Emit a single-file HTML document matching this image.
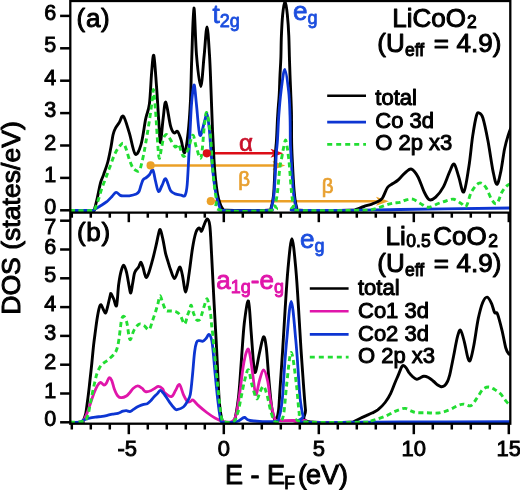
<!DOCTYPE html>
<html><head><meta charset="utf-8"><style>
html,body{margin:0;padding:0;background:#fff;}
svg{display:block;}
</style></head><body>
<svg width="520" height="490" viewBox="0 0 520 490">
<defs><filter id="bl" x="0" y="0" width="1" height="1"><feGaussianBlur stdDeviation="0.45"/></filter></defs>
<rect width="520" height="490" fill="#fff"/>
<g filter="url(#bl)">
<rect width="520" height="490" fill="#fff"/>
<defs><clipPath id="ca"><rect x="70.3" y="0.0" width="440.0" height="213.2"/></clipPath>
<clipPath id="cb"><rect x="70.3" y="212.7" width="440.0" height="211.5"/></clipPath></defs>
<!-- arrows -->
<g stroke-width="2.5">
<line x1="206.8" y1="153.3" x2="276" y2="153.3" stroke="#dc0a14"/>
<line x1="150.6" y1="165.4" x2="278" y2="165.4" stroke="#eba028"/>
<line x1="210.8" y1="201.2" x2="382" y2="201.2" stroke="#eba028"/>
</g>
<path d="M283.3,153.3 L270.5,148.8 L273.5,153.3 L270.5,157.8 Z" fill="#dc0a14"/>
<path d="M285.3,165.4 L272.5,160.9 L275.5,165.4 L272.5,169.9 Z" fill="#eba028"/>
<path d="M388.8,201.2 L376,196.7 L379,201.2 L376,205.7 Z" fill="#eba028"/>

<path d="M70.0,210.5 C73.7,210.5 88.0,210.6 92.0,210.4 C96.0,210.2 93.4,211.7 94.3,209.5 C95.2,207.3 96.4,201.9 97.4,197.5 C98.4,193.1 99.5,186.7 100.5,182.9 C101.5,179.1 102.4,178.1 103.6,174.6 C104.8,171.1 106.6,166.5 107.8,162.0 C109.0,157.5 110.0,152.0 110.9,147.5 C111.8,143.0 112.3,138.1 113.0,135.0 C113.7,131.9 114.0,130.9 115.1,128.8 C116.1,126.7 117.9,124.6 119.3,122.5 C120.7,120.4 121.7,114.6 123.4,116.3 C125.1,118.0 127.3,126.6 129.3,132.9 C131.3,139.2 133.2,152.1 135.2,154.0 C137.1,155.9 139.2,150.5 141.0,144.6 C142.8,138.7 144.3,125.6 145.7,118.8 C147.1,112.0 148.4,111.6 149.4,104.0 C150.4,96.4 150.9,81.1 151.6,73.0 C152.3,64.9 153.0,53.3 153.8,55.5 C154.6,57.7 155.6,74.4 156.5,86.0 C157.4,97.6 158.3,115.6 159.0,125.0 C159.7,134.4 159.8,143.5 160.5,142.3 C161.2,141.1 162.3,124.7 163.2,118.0 C164.1,111.3 164.6,100.9 165.8,102.2 C167.0,103.5 169.1,120.7 170.5,125.8 C171.9,130.9 172.8,132.0 174.0,132.9 C175.2,133.8 176.4,130.3 177.6,131.5 C178.8,132.7 179.9,136.3 181.1,139.9 C182.3,143.5 183.4,154.0 184.6,152.8 C185.8,151.6 187.1,141.7 188.1,132.9 C189.1,124.1 189.9,112.2 190.5,100.0 C191.1,87.8 191.1,75.3 191.7,60.0 C192.3,44.7 193.1,8.8 193.9,8.0 C194.7,7.2 195.4,41.9 196.5,55.0 C197.6,68.1 199.4,86.5 200.7,86.5 C202.0,86.5 203.1,64.9 204.2,55.0 C205.2,45.1 206.1,27.0 207.0,27.0 C207.9,27.0 208.8,44.5 209.5,55.0 C210.2,65.5 210.5,77.5 211.0,90.0 C211.5,102.5 212.0,118.3 212.5,130.0 C213.0,141.7 213.5,151.7 214.0,160.0 C214.5,168.3 215.0,174.3 215.6,180.0 C216.2,185.7 216.8,190.2 217.5,194.0 C218.2,197.8 218.9,200.4 219.8,203.0 C220.7,205.6 221.8,208.1 223.0,209.3 C224.2,210.5 219.6,210.1 227.0,210.3 C234.4,210.5 260.1,210.8 267.5,210.3 C274.9,209.8 270.1,210.4 271.2,207.3 C272.2,204.2 273.1,200.9 273.8,192.0 C274.5,183.1 275.1,162.5 275.5,153.8 C275.9,145.1 276.1,146.4 276.5,140.0 C276.9,133.6 277.2,123.0 277.7,115.5 C278.1,108.0 278.8,101.8 279.2,95.0 C279.6,88.2 279.7,81.3 280.0,75.0 C280.3,68.7 280.7,63.5 280.9,57.0 C281.1,50.5 281.1,42.8 281.4,35.7 C281.7,28.6 282.1,20.1 282.7,14.3 C283.3,8.5 284.2,1.0 285.0,1.0 C285.8,1.0 286.7,8.5 287.3,14.3 C287.9,20.1 288.5,28.6 288.8,35.7 C289.1,42.8 289.2,50.6 289.4,57.1 C289.6,63.6 289.8,68.7 290.0,75.0 C290.2,81.3 290.6,88.2 290.8,95.0 C291.1,101.8 291.4,108.0 291.5,115.5 C291.6,123.0 291.5,133.6 291.6,140.0 C291.7,146.4 291.6,145.1 292.0,153.8 C292.4,162.5 293.4,183.1 294.2,192.0 C295.0,200.9 295.6,204.2 296.6,207.3 C297.6,210.4 291.1,209.8 300.0,210.3 C308.9,210.8 340.7,210.5 350.0,210.3 C359.3,210.1 353.7,209.9 356.0,209.3 C358.3,208.7 361.2,207.4 364.0,206.5 C366.8,205.6 370.2,204.6 372.5,203.8 C374.8,203.0 376.3,202.5 378.0,201.5 C379.7,200.5 380.9,200.3 382.5,198.0 C384.1,195.7 385.8,189.9 387.5,187.5 C389.2,185.1 390.8,185.0 392.5,183.8 C394.2,182.6 395.9,181.8 397.5,180.5 C399.1,179.2 400.6,177.4 402.0,176.0 C403.4,174.6 404.4,173.2 406.0,172.0 C407.6,170.8 409.5,168.3 411.5,169.1 C413.5,169.9 415.8,172.9 417.9,176.7 C420.0,180.5 422.3,188.2 424.2,192.0 C426.1,195.8 427.4,198.8 429.3,199.7 C431.2,200.5 433.4,199.2 435.7,197.1 C438.0,195.0 441.1,191.2 443.4,186.9 C445.7,182.7 447.9,175.4 449.7,171.6 C451.5,167.8 452.6,163.2 454.1,164.0 C455.6,164.8 457.1,172.0 458.7,176.7 C460.3,181.4 462.1,193.7 463.8,192.0 C465.5,190.3 467.4,175.8 468.9,166.5 C470.4,157.2 471.4,144.4 472.7,135.9 C474.0,127.4 475.4,119.3 476.5,115.5 C477.6,111.7 478.0,112.6 479.1,113.0 C480.2,113.4 481.4,113.3 482.9,118.0 C484.4,122.7 486.3,132.1 488.0,141.0 C489.7,149.9 491.6,164.4 493.1,171.6 C494.6,178.8 495.6,184.4 496.9,184.4 C498.2,184.4 499.5,177.6 500.8,171.6 C502.1,165.6 503.3,154.9 504.6,148.7 C505.9,142.5 507.2,138.5 508.4,134.6 C509.6,130.7 511.4,126.6 512.0,125.0" fill="none" stroke="#000" stroke-width="2.90" stroke-linejoin="round" clip-path="url(#ca)"/>
<path d="M70.0,210.5 C73.7,210.5 88.0,210.6 92.0,210.4 C96.0,210.2 92.9,210.4 94.3,209.6 C95.7,208.8 98.4,207.1 100.5,205.8 C102.6,204.5 104.9,203.2 106.8,201.7 C108.7,200.1 110.5,198.1 112.0,196.5 C113.5,194.9 114.7,192.5 116.1,192.3 C117.5,192.1 118.9,194.8 120.3,195.4 C121.7,196.0 123.0,195.7 124.5,195.8 C126.0,195.9 127.3,196.1 129.3,195.8 C131.3,195.5 134.7,194.7 136.3,194.0 C137.9,193.3 138.2,193.0 139.0,191.5 C139.8,190.0 140.4,187.0 141.1,185.0 C141.8,183.0 142.3,180.8 143.2,179.6 C144.1,178.3 145.3,178.3 146.4,177.5 C147.5,176.7 148.5,175.8 149.6,174.5 C150.7,173.2 151.8,168.9 152.8,170.0 C153.8,171.1 154.6,177.4 155.5,181.0 C156.4,184.6 157.4,190.8 158.5,191.5 C159.6,192.2 160.8,187.6 162.0,185.5 C163.2,183.4 164.3,178.0 165.7,178.8 C167.1,179.6 168.9,187.9 170.5,190.4 C172.1,192.9 173.4,193.1 175.2,193.9 C177.0,194.7 179.5,194.8 181.1,195.1 C182.7,195.4 184.0,197.3 185.0,195.5 C186.0,193.7 186.5,192.6 187.2,184.5 C187.9,176.4 188.6,159.9 189.3,147.0 C190.0,134.1 190.7,116.2 191.3,107.0 C191.9,97.8 192.2,95.6 192.7,92.0 C193.2,88.4 193.8,83.2 194.4,85.4 C195.0,87.6 195.6,96.7 196.5,105.0 C197.4,113.3 198.6,132.5 199.9,135.2 C201.2,137.9 203.4,124.6 204.6,121.1 C205.8,117.6 206.1,112.9 206.9,114.1 C207.7,115.3 208.4,120.8 209.2,128.2 C210.0,135.6 210.6,148.5 211.6,158.7 C212.6,168.9 213.7,181.1 215.1,189.2 C216.5,197.3 218.4,204.0 219.8,207.5 C221.2,211.0 215.5,209.8 223.5,210.3 C231.5,210.8 260.0,210.8 268.0,210.3 C276.0,209.8 270.6,210.4 271.6,207.3 C272.6,204.2 273.4,200.9 274.2,192.0 C275.0,183.1 275.8,162.5 276.3,153.8 C276.9,145.1 277.1,146.4 277.5,140.0 C277.9,133.6 278.2,123.6 278.8,115.5 C279.4,107.4 280.0,99.3 281.0,91.6 C282.0,83.9 283.5,69.5 284.8,69.5 C286.1,69.5 287.8,83.9 288.7,91.6 C289.6,99.3 289.7,107.4 290.0,115.5 C290.3,123.6 290.2,133.6 290.3,140.0 C290.4,146.4 290.4,145.1 290.9,153.8 C291.4,162.5 292.5,183.1 293.4,192.0 C294.3,200.9 295.1,204.2 296.1,207.3 C297.1,210.4 282.2,209.9 299.5,210.3 C316.8,210.7 364.6,209.9 400.0,209.5 C435.4,209.1 493.3,208.2 512.0,208.0" fill="none" stroke="#0b35d2" stroke-width="2.80" stroke-linejoin="round" clip-path="url(#ca)"/>
<path d="M70.0,210.5 C73.8,210.5 88.8,210.8 93.0,210.4 C97.2,210.0 94.4,209.7 95.3,207.9 C96.2,206.1 97.4,202.7 98.4,199.6 C99.4,196.5 100.5,192.3 101.5,189.2 C102.5,186.1 103.7,183.6 104.7,180.8 C105.8,178.0 106.8,175.3 107.8,172.5 C108.8,169.7 109.9,167.0 110.9,164.2 C111.9,161.4 113.0,158.2 114.0,155.8 C115.0,153.4 116.2,151.3 117.2,149.6 C118.2,147.9 119.3,146.4 120.3,145.4 C121.3,144.4 122.4,142.5 123.4,143.3 C124.4,144.1 125.5,147.1 126.5,150.0 C127.5,152.9 128.6,157.6 129.7,160.6 C130.8,163.6 131.8,166.3 133.0,168.0 C134.2,169.7 135.9,170.6 137.0,171.0 C138.1,171.4 138.8,171.7 139.5,170.5 C140.2,169.3 140.7,167.4 141.5,164.0 C142.3,160.6 143.2,157.3 144.5,150.0 C145.8,142.7 148.2,128.7 149.5,120.0 C150.8,111.3 151.8,103.0 152.5,98.0 C153.2,93.0 153.1,88.0 153.6,90.0 C154.1,92.0 154.6,99.0 155.5,110.0 C156.4,121.0 157.8,149.9 158.8,156.3 C159.8,162.7 160.6,151.7 161.4,148.6 C162.2,145.5 162.7,140.2 163.6,137.9 C164.5,135.6 165.7,134.4 166.8,134.6 C167.9,134.8 168.6,136.8 170.0,138.9 C171.4,141.0 173.8,146.1 175.2,147.0 C176.6,147.9 177.3,143.0 178.7,144.6 C180.1,146.2 181.8,155.5 183.4,156.3 C185.0,157.1 186.5,152.8 188.1,149.3 C189.7,145.8 191.4,135.6 192.8,135.2 C194.2,134.8 194.9,143.3 196.3,147.0 C197.7,150.7 199.6,161.4 201.0,157.5 C202.4,153.6 203.6,130.9 204.6,123.5 C205.6,116.1 205.9,111.0 206.9,112.9 C207.9,114.9 209.4,125.6 210.4,135.2 C211.4,144.8 211.8,159.8 212.8,170.4 C213.8,181.0 214.9,191.9 216.3,198.6 C217.7,205.2 211.7,208.4 221.0,210.3 C230.3,212.2 263.0,211.2 272.0,210.3 C281.0,209.4 274.1,208.1 275.0,205.0 C275.9,201.9 276.7,198.4 277.5,192.0 C278.3,185.6 279.2,172.4 280.0,166.5 C280.8,160.6 281.4,159.4 282.0,156.4 C282.6,153.4 282.8,151.3 283.4,148.6 C284.0,145.9 284.9,140.0 285.6,140.0 C286.3,140.0 286.9,145.9 287.4,148.6 C287.9,151.3 288.0,153.4 288.4,156.4 C288.8,159.4 289.0,160.6 289.5,166.5 C290.0,172.4 290.8,185.6 291.5,192.0 C292.2,198.4 292.6,201.9 293.5,205.0 C294.4,208.1 285.9,209.4 297.0,210.3 C308.1,211.2 347.0,210.6 360.0,210.3 C373.0,210.1 370.0,209.9 375.0,208.8 C380.0,207.7 385.8,204.9 390.0,203.8 C394.2,202.7 397.3,202.9 400.0,202.3 C402.7,201.7 403.9,200.5 406.0,200.0 C408.1,199.5 410.4,198.6 412.8,199.2 C415.2,199.8 417.8,202.2 420.4,203.5 C422.9,204.8 425.1,207.3 428.1,207.3 C431.1,207.3 435.3,204.6 438.3,203.5 C441.3,202.4 443.4,201.7 446.0,201.0 C448.6,200.3 451.1,198.8 453.6,199.2 C456.1,199.6 459.1,202.3 461.2,203.5 C463.3,204.7 464.6,208.0 466.3,206.1 C468.0,204.2 469.3,195.8 471.4,192.0 C473.5,188.2 476.8,183.9 479.1,183.1 C481.5,182.2 483.4,184.1 485.5,186.9 C487.6,189.7 489.9,196.9 491.8,199.7 C493.7,202.5 495.2,204.8 496.9,203.5 C498.6,202.2 500.3,195.0 502.0,192.0 C503.7,189.0 505.4,187.2 507.1,185.7 C508.8,184.2 511.2,183.4 512.0,183.0" fill="none" stroke="#22dd33" stroke-width="2.90" stroke-linejoin="round" stroke-dasharray="5,3.5" clip-path="url(#ca)"/>
<path d="M70.0,422.3 C72.0,422.3 79.8,422.5 82.0,422.3 C84.2,422.1 82.6,422.5 83.2,421.0 C83.8,419.5 85.1,416.6 85.8,413.3 C86.5,410.0 86.9,405.4 87.5,401.1 C88.1,396.8 88.8,390.8 89.2,387.3 C89.6,383.8 89.6,384.0 90.0,380.0 C90.4,376.0 91.2,369.3 91.8,363.5 C92.4,357.7 93.0,350.6 93.6,345.1 C94.2,339.6 94.9,335.0 95.5,330.4 C96.1,325.8 96.7,321.3 97.3,317.6 C97.9,313.9 98.5,310.5 99.1,308.4 C99.7,306.2 100.2,304.4 101.0,304.7 C101.8,305.0 102.9,308.8 103.7,310.2 C104.5,311.6 105.0,313.4 105.6,313.0 C106.2,312.6 106.6,310.4 107.4,307.5 C108.2,304.6 109.6,297.8 110.2,295.5 C110.8,293.2 110.5,293.1 111.1,293.7 C111.7,294.3 112.9,297.2 113.8,299.2 C114.7,301.2 115.8,308.1 116.6,305.6 C117.4,303.1 117.9,290.2 118.7,284.3 C119.5,278.4 120.4,273.7 121.3,270.5 C122.2,267.3 123.0,265.0 123.9,265.3 C124.8,265.6 125.6,268.7 126.5,272.2 C127.4,275.7 128.4,282.6 129.1,286.1 C129.8,289.6 130.2,293.3 130.8,293.0 C131.4,292.7 131.9,287.5 132.5,284.3 C133.1,281.1 133.7,276.3 134.3,273.9 C134.9,271.5 135.3,271.2 136.0,270.1 C136.7,269.0 137.8,268.3 138.6,267.0 C139.4,265.7 140.1,262.1 140.8,262.1 C141.5,262.1 142.2,265.0 142.9,267.0 C143.6,269.0 144.1,272.2 144.7,273.9 C145.3,275.6 145.7,277.7 146.4,277.4 C147.1,277.1 148.0,275.1 149.0,272.2 C150.0,269.3 151.3,264.4 152.5,260.1 C153.7,255.8 154.9,250.5 155.9,246.2 C156.9,241.9 157.8,236.8 158.5,234.1 C159.2,231.3 159.6,228.8 160.3,229.7 C161.0,230.6 162.0,235.4 162.9,239.3 C163.8,243.2 164.6,249.3 165.5,253.1 C166.4,256.9 167.3,259.1 168.1,261.8 C168.9,264.5 169.4,266.7 170.5,269.5 C171.6,272.3 173.2,278.3 174.5,278.5 C175.8,278.7 177.1,272.5 178.0,270.6 C178.9,268.7 179.5,266.4 180.2,267.2 C180.9,267.9 181.5,271.0 182.4,275.1 C183.3,279.2 184.7,292.3 185.8,291.9 C186.9,291.5 188.1,280.1 189.2,272.8 C190.3,265.5 191.4,254.9 192.5,248.2 C193.6,241.5 194.8,235.8 195.9,232.4 C197.0,229.0 198.4,228.2 199.3,228.0 C200.2,227.8 200.8,231.7 201.5,231.3 C202.2,230.9 202.9,227.8 203.8,225.7 C204.7,223.6 206.1,219.0 207.1,219.0 C208.1,219.0 209.1,219.7 209.8,225.7 C210.6,231.7 210.9,242.6 211.6,254.9 C212.3,267.2 213.1,284.8 213.9,299.8 C214.7,314.8 215.5,328.3 216.4,345.0 C217.3,361.7 218.3,387.7 219.2,400.1 C220.1,412.5 220.9,415.7 221.9,419.4 C222.9,423.1 223.2,421.8 225.0,422.3 C226.8,422.8 231.2,423.3 233.0,422.3 C234.8,421.3 234.5,421.1 235.5,416.5 C236.5,411.9 237.8,404.1 238.8,394.5 C239.8,384.9 240.6,370.7 241.5,358.8 C242.4,346.9 243.2,332.6 244.3,323.0 C245.5,313.4 247.3,299.6 248.4,301.0 C249.5,302.4 250.2,320.3 251.1,331.3 C252.0,342.3 253.1,360.4 253.9,367.0 C254.7,373.6 254.9,373.5 255.8,371.2 C256.7,368.9 258.1,359.0 259.4,353.3 C260.7,347.6 262.4,337.7 263.5,336.8 C264.6,335.9 265.4,340.5 266.3,347.8 C267.2,355.1 268.1,370.7 269.0,380.8 C269.9,390.9 270.9,401.9 271.8,408.3 C272.7,414.7 273.7,417.4 274.5,419.3 C275.3,421.2 275.8,421.1 276.5,419.5 C277.2,417.9 278.0,415.1 278.6,410.0 C279.2,404.9 279.3,399.3 280.0,389.2 C280.7,379.1 281.8,362.7 282.7,349.4 C283.6,336.1 284.2,322.9 285.1,309.6 C286.0,296.3 286.8,281.6 287.9,269.8 C289.0,258.0 290.6,238.8 291.9,238.8 C293.2,238.8 294.8,258.0 295.9,269.8 C297.0,281.6 297.8,296.3 298.6,309.6 C299.5,322.9 300.1,336.1 301.0,349.4 C301.9,362.7 303.1,379.1 303.8,389.2 C304.6,399.3 304.9,404.6 305.5,410.0 C306.1,415.4 300.1,419.4 307.5,421.5 C314.9,423.6 342.3,422.3 350.0,422.3 C357.7,422.3 352.2,422.1 353.9,421.5 C355.6,420.9 357.9,419.5 360.0,418.5 C362.1,417.5 364.8,416.3 366.8,415.4 C368.8,414.5 370.2,413.9 372.0,413.0 C373.8,412.1 375.6,411.6 377.8,409.9 C380.0,408.1 383.0,405.3 385.1,402.5 C387.2,399.7 389.1,396.6 390.7,393.3 C392.3,390.0 393.7,385.8 395.0,382.7 C396.3,379.6 397.4,377.3 398.5,374.6 C399.6,371.9 401.0,368.0 401.9,366.5 C402.8,365.0 403.0,365.4 403.7,365.6 C404.4,365.8 405.1,366.6 406.0,367.7 C406.9,368.8 407.8,370.9 408.8,372.3 C409.9,373.7 411.1,375.2 412.3,376.3 C413.6,377.4 415.1,378.9 416.3,379.2 C417.6,379.5 418.6,378.6 419.8,378.1 C421.1,377.6 422.4,376.4 423.8,376.3 C425.2,376.2 426.8,376.7 428.4,377.5 C429.9,378.3 431.6,379.8 433.1,381.0 C434.7,382.2 436.4,384.1 437.7,385.0 C439.0,385.9 440.0,386.6 441.1,386.7 C442.2,386.8 443.5,386.5 444.6,385.6 C445.7,384.7 446.6,383.3 447.5,381.5 C448.4,379.7 449.1,377.1 449.8,374.6 C450.5,372.1 450.8,369.8 451.5,366.5 C452.2,363.2 452.8,360.1 453.8,355.0 C454.8,349.9 456.5,340.3 457.6,336.2 C458.7,332.1 459.5,329.3 460.6,330.3 C461.7,331.3 463.2,337.4 464.4,342.1 C465.6,346.8 467.0,355.4 468.0,358.3 C469.0,361.2 469.4,362.0 470.4,359.8 C471.4,357.6 472.6,351.9 473.9,345.0 C475.2,338.1 476.8,325.5 478.3,318.4 C479.8,311.3 481.3,305.8 482.8,302.2 C484.3,298.6 485.7,296.9 487.2,297.1 C488.7,297.3 490.4,301.0 491.6,303.6 C492.8,306.2 493.6,310.8 494.6,312.5 C495.6,314.2 496.3,311.0 497.5,314.0 C498.7,317.0 500.6,324.6 502.0,330.3 C503.4,336.0 504.7,344.1 505.8,348.0 C506.9,351.9 507.8,352.9 508.8,353.9 C509.8,354.9 511.5,354.0 512.0,354.0" fill="none" stroke="#000" stroke-width="2.90" stroke-linejoin="round" clip-path="url(#cb)"/>
<path d="M70.0,422.3 C71.7,422.3 77.8,422.4 80.0,422.2 C82.2,422.0 82.1,422.4 83.2,421.0 C84.3,419.6 85.6,416.8 86.7,414.1 C87.8,411.4 88.9,407.9 90.1,404.6 C91.2,401.3 92.4,397.2 93.6,394.2 C94.8,391.2 95.8,388.3 97.0,386.4 C98.2,384.4 99.3,382.7 100.5,382.5 C101.7,382.3 103.0,385.1 104.0,385.2 C105.0,385.3 105.7,384.2 106.5,383.0 C107.3,381.8 108.2,378.2 109.1,377.8 C110.0,377.4 110.8,378.5 111.7,380.4 C112.6,382.3 113.3,386.4 114.3,389.0 C115.3,391.6 116.6,394.6 117.8,396.0 C119.0,397.4 119.9,397.7 121.3,397.7 C122.7,397.7 125.0,396.9 126.4,396.0 C127.8,395.1 128.7,393.8 129.9,392.5 C131.1,391.2 132.1,389.3 133.4,388.2 C134.7,387.1 136.3,385.9 137.7,385.9 C139.1,385.9 140.7,387.2 142.0,388.2 C143.3,389.1 144.1,391.2 145.5,391.6 C146.9,392.0 149.1,391.4 150.7,390.8 C152.3,390.2 153.7,388.9 155.0,388.2 C156.3,387.5 157.1,386.3 158.4,386.4 C159.7,386.5 161.8,388.0 162.8,389.0 C163.8,390.0 163.1,391.2 164.5,392.5 C165.9,393.8 169.7,396.8 171.5,396.5 C173.3,396.2 174.2,392.5 175.5,390.5 C176.8,388.5 178.2,383.8 179.5,384.5 C180.8,385.2 182.1,391.8 183.4,394.6 C184.7,397.4 186.3,400.4 187.5,401.5 C188.7,402.6 189.6,401.7 190.5,401.5 C191.4,401.3 191.7,399.4 193.0,400.1 C194.3,400.8 196.2,403.5 198.5,405.6 C200.8,407.7 204.1,410.4 206.8,412.5 C209.6,414.6 212.2,416.5 215.0,418.0 C217.8,419.5 220.5,421.0 223.3,421.6 C226.1,422.2 229.9,422.6 232.0,421.5 C234.1,420.4 234.8,419.4 236.0,415.0 C237.2,410.6 238.4,402.5 239.5,395.0 C240.6,387.5 241.7,376.7 242.7,370.0 C243.7,363.3 244.6,358.5 245.5,355.0 C246.4,351.5 247.6,348.6 248.4,349.1 C249.2,349.6 249.8,354.1 250.5,358.0 C251.2,361.9 251.6,366.4 252.5,372.5 C253.4,378.6 254.7,393.1 255.8,394.5 C256.9,395.9 258.1,384.9 259.4,380.8 C260.7,376.7 262.1,369.8 263.5,369.8 C264.9,369.8 266.5,375.8 267.6,380.8 C268.8,385.8 269.2,393.8 270.4,400.0 C271.5,406.2 273.2,414.5 274.5,417.9 C275.8,421.3 272.9,420.1 278.0,420.5 C283.1,420.9 299.7,420.2 305.0,420.5 C310.3,420.8 275.5,422.0 310.0,422.3 C344.5,422.6 478.3,422.3 512.0,422.3" fill="none" stroke="#e014aa" stroke-width="2.80" stroke-linejoin="round" clip-path="url(#cb)"/>
<path d="M70.0,422.3 C71.7,422.3 77.8,422.5 80.0,422.1 C82.2,421.8 81.8,420.8 83.2,420.2 C84.6,419.6 86.4,418.9 88.4,418.4 C90.4,417.9 93.0,417.4 95.3,417.1 C97.6,416.8 100.2,416.7 102.2,416.4 C104.2,416.1 105.7,415.7 107.4,415.3 C109.1,414.9 110.9,414.4 112.6,414.1 C114.3,413.8 116.1,413.8 117.8,413.3 C119.5,412.8 121.6,411.6 123.0,411.2 C124.4,410.8 125.2,410.6 126.4,410.7 C127.6,410.8 128.7,411.7 129.9,411.5 C131.1,411.3 132.0,410.3 133.4,409.4 C134.8,408.5 136.9,407.1 138.6,406.3 C140.3,405.5 142.3,404.7 143.7,404.3 C145.1,403.9 146.0,404.3 147.2,403.7 C148.4,403.1 149.5,401.9 150.7,400.8 C151.8,399.7 152.9,398.0 154.1,396.8 C155.2,395.6 156.6,394.5 157.6,393.4 C158.6,392.3 159.3,390.5 160.2,390.4 C161.1,390.2 162.1,391.8 162.8,392.5 C163.5,393.2 163.3,392.8 164.4,394.4 C165.5,396.0 167.8,399.8 169.5,402.1 C171.2,404.5 173.3,407.2 174.6,408.5 C175.8,409.8 175.5,409.9 177.0,409.7 C178.5,409.4 181.7,408.3 183.4,407.0 C185.1,405.7 185.8,404.1 187.0,402.0 C188.2,399.9 189.4,399.3 190.3,394.6 C191.2,389.9 191.9,381.1 192.6,374.0 C193.3,366.9 193.9,357.2 194.6,352.0 C195.2,346.8 195.8,344.4 196.5,342.5 C197.2,340.6 197.9,340.8 199.0,340.6 C200.1,340.4 201.7,341.6 202.9,341.2 C204.1,340.8 204.9,339.6 206.0,338.5 C207.1,337.4 208.2,333.6 209.3,334.5 C210.4,335.4 211.4,337.3 212.3,343.7 C213.2,350.1 214.1,363.2 215.0,372.6 C215.9,382.0 216.9,392.3 217.8,400.1 C218.7,407.9 219.6,415.7 220.6,419.4 C221.6,423.1 221.3,421.9 224.0,422.3 C226.7,422.7 233.6,422.3 237.0,421.5 C240.4,420.7 242.1,417.7 244.3,417.5 C246.5,417.3 244.9,419.8 250.0,420.5 C255.1,421.2 270.1,422.2 275.0,421.5 C279.9,420.8 278.2,420.0 279.4,416.1 C280.6,412.2 281.6,406.2 282.4,398.3 C283.2,390.4 283.7,378.7 284.4,368.8 C285.1,358.9 285.7,350.4 286.8,339.2 C287.9,327.9 289.7,301.3 291.2,301.3 C292.7,301.3 294.6,327.9 295.7,339.2 C296.8,350.4 297.3,358.9 298.0,368.8 C298.7,378.7 299.2,390.4 300.1,398.3 C301.0,406.2 302.1,412.1 303.1,416.1 C304.1,420.1 289.9,421.2 306.0,422.2 C322.1,423.2 365.7,422.0 400.0,421.9 C434.3,421.8 493.3,421.7 512.0,421.6" fill="none" stroke="#0b35d2" stroke-width="2.80" stroke-linejoin="round" clip-path="url(#cb)"/>
<path d="M70.0,422.3 C72.2,422.2 80.4,421.9 83.0,421.5 C85.6,421.1 84.9,421.6 85.8,420.2 C86.7,418.8 87.7,415.9 88.4,413.3 C89.1,410.7 89.5,407.5 90.1,404.6 C90.7,401.7 91.1,399.5 91.8,396.0 C92.5,392.5 93.5,387.6 94.4,383.8 C95.3,380.1 95.9,376.6 97.0,373.5 C98.1,370.4 99.6,367.4 101.0,365.4 C102.4,363.4 104.1,362.9 105.6,361.7 C107.1,360.5 108.7,359.4 110.2,358.0 C111.7,356.6 113.6,355.2 114.8,353.4 C116.0,351.6 116.7,349.9 117.5,347.0 C118.3,344.1 118.9,339.5 119.4,336.0 C119.9,332.5 120.1,329.0 120.6,326.0 C121.0,323.0 121.5,319.6 122.1,318.0 C122.7,316.4 123.4,316.1 124.1,316.5 C124.8,316.9 125.7,319.0 126.2,320.5 C126.8,322.0 126.8,322.3 127.4,325.5 C128.0,328.7 128.9,338.8 130.0,339.6 C131.1,340.5 132.3,333.2 133.8,330.6 C135.3,328.0 137.2,325.1 138.9,324.2 C140.6,323.3 142.5,324.6 144.0,325.5 C145.5,326.4 146.8,328.9 147.8,329.4 C148.8,329.9 149.2,329.9 150.0,328.3 C150.8,326.7 151.9,322.5 152.9,319.6 C153.9,316.7 155.0,313.6 155.8,311.0 C156.6,308.4 157.2,306.3 157.9,303.8 C158.6,301.3 159.2,295.8 160.1,295.8 C160.9,295.8 162.0,301.4 163.0,303.8 C164.0,306.2 164.9,309.1 165.9,310.3 C166.9,311.5 167.9,310.9 168.8,311.0 C169.8,311.1 170.4,310.9 171.6,311.0 C172.8,311.1 174.6,311.0 176.0,311.7 C177.4,312.4 178.9,313.2 180.3,315.3 C181.7,317.4 183.4,324.0 184.6,324.0 C185.8,324.0 186.7,317.7 187.5,315.3 C188.3,312.9 189.1,311.2 189.7,309.5 C190.3,307.8 190.5,304.7 191.1,305.2 C191.7,305.7 192.5,310.0 193.3,312.4 C194.2,314.8 195.1,318.4 196.2,319.6 C197.3,320.8 198.9,320.6 199.8,319.6 C200.8,318.7 201.2,316.1 201.9,313.9 C202.6,311.7 203.2,309.1 204.1,306.6 C204.9,304.1 206.2,298.7 207.0,298.7 C207.8,298.7 208.6,304.1 209.2,306.6 C209.8,309.1 210.2,311.0 210.6,313.9 C211.0,316.8 211.2,320.8 211.5,324.0 C211.8,327.2 212.2,329.5 212.6,333.0 C213.0,336.5 213.1,338.4 213.7,345.0 C214.3,351.6 215.5,363.4 216.4,372.6 C217.3,381.8 218.3,392.3 219.2,400.1 C220.1,407.9 220.8,415.7 221.9,419.4 C223.1,423.1 224.1,421.8 226.1,422.1 C228.1,422.5 232.0,423.2 234.0,421.5 C236.0,419.8 236.8,415.9 238.0,412.0 C239.2,408.1 239.9,403.2 241.0,398.0 C242.1,392.8 243.3,385.7 244.5,381.0 C245.7,376.3 247.2,369.1 248.4,369.8 C249.7,370.5 250.6,380.2 252.0,385.0 C253.4,389.8 255.3,397.5 256.6,398.7 C257.9,399.9 258.9,394.1 260.0,392.0 C261.1,389.9 262.3,385.8 263.5,386.3 C264.7,386.8 265.8,390.7 267.0,395.0 C268.2,399.3 269.7,407.6 271.0,412.0 C272.3,416.4 273.3,420.1 275.0,421.5 C276.7,422.9 279.5,421.9 281.0,420.5 C282.5,419.1 282.8,419.2 283.8,413.1 C284.8,407.0 285.6,393.7 286.8,383.6 C288.0,373.5 289.6,352.5 291.2,352.5 C292.8,352.5 295.0,373.5 296.3,383.6 C297.6,393.7 298.2,406.8 299.2,413.1 C300.1,419.4 291.5,420.0 302.0,421.5 C312.5,423.0 350.8,422.3 362.0,422.3 C373.2,422.3 366.7,422.0 369.0,421.5 C371.3,421.0 373.3,420.4 376.0,419.5 C378.7,418.6 382.1,417.6 385.1,416.3 C388.2,415.0 391.9,412.8 394.3,411.7 C396.8,410.6 398.0,410.1 399.8,409.5 C401.6,408.9 403.5,408.2 405.4,408.4 C407.2,408.6 409.1,410.1 410.9,410.8 C412.7,411.5 413.8,412.3 416.4,412.6 C419.0,412.9 422.9,412.7 426.6,412.8 C430.3,412.9 434.7,413.4 438.4,413.0 C442.1,412.6 445.6,411.3 448.8,410.1 C452.0,408.9 455.1,406.6 457.6,405.6 C460.1,404.6 461.4,404.1 463.6,404.1 C465.8,404.1 468.7,406.6 470.9,405.6 C473.1,404.6 474.9,400.9 476.9,398.2 C478.9,395.5 480.8,391.3 482.8,389.4 C484.8,387.5 486.7,387.0 488.7,387.0 C490.7,387.0 492.6,388.3 494.6,389.4 C496.6,390.5 498.8,392.1 500.5,393.8 C502.2,395.5 503.5,398.0 504.9,399.7 C506.3,401.4 507.6,403.1 508.8,404.1 C510.0,405.2 511.5,405.7 512.0,406.0" fill="none" stroke="#22dd33" stroke-width="2.90" stroke-linejoin="round" stroke-dasharray="5,3.5" clip-path="url(#cb)"/>
<g stroke="#000" stroke-width="2.30" fill="none">
<rect x="70.30" y="1.00" width="440.00" height="422.70"/>
<line x1="70.30" y1="212.70" x2="510.30" y2="212.70"/>
</g>
<g stroke="#000" stroke-width="2.50">
<line x1="71.80" y1="212.70" x2="71.80" y2="217.70"/>
<line x1="71.80" y1="423.70" x2="71.80" y2="429.50"/>
<line x1="90.80" y1="212.70" x2="90.80" y2="217.70"/>
<line x1="90.80" y1="423.70" x2="90.80" y2="429.50"/>
<line x1="109.80" y1="212.70" x2="109.80" y2="217.70"/>
<line x1="109.80" y1="423.70" x2="109.80" y2="429.50"/>
<line x1="128.80" y1="212.70" x2="128.80" y2="222.20"/>
<line x1="128.80" y1="423.70" x2="128.80" y2="434.20"/>
<line x1="147.80" y1="212.70" x2="147.80" y2="217.70"/>
<line x1="147.80" y1="423.70" x2="147.80" y2="429.50"/>
<line x1="166.80" y1="212.70" x2="166.80" y2="217.70"/>
<line x1="166.80" y1="423.70" x2="166.80" y2="429.50"/>
<line x1="185.80" y1="212.70" x2="185.80" y2="217.70"/>
<line x1="185.80" y1="423.70" x2="185.80" y2="429.50"/>
<line x1="204.80" y1="212.70" x2="204.80" y2="217.70"/>
<line x1="204.80" y1="423.70" x2="204.80" y2="429.50"/>
<line x1="223.80" y1="212.70" x2="223.80" y2="222.20"/>
<line x1="223.80" y1="423.70" x2="223.80" y2="434.20"/>
<line x1="242.80" y1="212.70" x2="242.80" y2="217.70"/>
<line x1="242.80" y1="423.70" x2="242.80" y2="429.50"/>
<line x1="261.80" y1="212.70" x2="261.80" y2="217.70"/>
<line x1="261.80" y1="423.70" x2="261.80" y2="429.50"/>
<line x1="280.80" y1="212.70" x2="280.80" y2="217.70"/>
<line x1="280.80" y1="423.70" x2="280.80" y2="429.50"/>
<line x1="299.80" y1="212.70" x2="299.80" y2="217.70"/>
<line x1="299.80" y1="423.70" x2="299.80" y2="429.50"/>
<line x1="318.80" y1="212.70" x2="318.80" y2="222.20"/>
<line x1="318.80" y1="423.70" x2="318.80" y2="434.20"/>
<line x1="337.80" y1="212.70" x2="337.80" y2="217.70"/>
<line x1="337.80" y1="423.70" x2="337.80" y2="429.50"/>
<line x1="356.80" y1="212.70" x2="356.80" y2="217.70"/>
<line x1="356.80" y1="423.70" x2="356.80" y2="429.50"/>
<line x1="375.80" y1="212.70" x2="375.80" y2="217.70"/>
<line x1="375.80" y1="423.70" x2="375.80" y2="429.50"/>
<line x1="394.80" y1="212.70" x2="394.80" y2="217.70"/>
<line x1="394.80" y1="423.70" x2="394.80" y2="429.50"/>
<line x1="413.80" y1="212.70" x2="413.80" y2="222.20"/>
<line x1="413.80" y1="423.70" x2="413.80" y2="434.20"/>
<line x1="432.80" y1="212.70" x2="432.80" y2="217.70"/>
<line x1="432.80" y1="423.70" x2="432.80" y2="429.50"/>
<line x1="451.80" y1="212.70" x2="451.80" y2="217.70"/>
<line x1="451.80" y1="423.70" x2="451.80" y2="429.50"/>
<line x1="470.80" y1="212.70" x2="470.80" y2="217.70"/>
<line x1="470.80" y1="423.70" x2="470.80" y2="429.50"/>
<line x1="489.80" y1="212.70" x2="489.80" y2="217.70"/>
<line x1="489.80" y1="423.70" x2="489.80" y2="429.50"/>
<line x1="508.80" y1="212.70" x2="508.80" y2="222.20"/>
<line x1="508.80" y1="423.70" x2="508.80" y2="434.20"/>
<line x1="60.10" y1="210.30" x2="70.30" y2="210.30"/>
<line x1="60.10" y1="177.90" x2="70.30" y2="177.90"/>
<line x1="60.10" y1="145.50" x2="70.30" y2="145.50"/>
<line x1="60.10" y1="113.10" x2="70.30" y2="113.10"/>
<line x1="60.10" y1="80.70" x2="70.30" y2="80.70"/>
<line x1="60.10" y1="48.30" x2="70.30" y2="48.30"/>
<line x1="60.10" y1="15.90" x2="70.30" y2="15.90"/>
<line x1="60.10" y1="422.30" x2="70.30" y2="422.30"/>
<line x1="60.10" y1="393.50" x2="70.30" y2="393.50"/>
<line x1="60.10" y1="364.70" x2="70.30" y2="364.70"/>
<line x1="60.10" y1="335.90" x2="70.30" y2="335.90"/>
<line x1="60.10" y1="307.10" x2="70.30" y2="307.10"/>
<line x1="60.10" y1="278.30" x2="70.30" y2="278.30"/>
<line x1="60.10" y1="249.50" x2="70.30" y2="249.50"/>
<line x1="60.10" y1="220.70" x2="70.30" y2="220.70"/>
</g>
<g font-family='"Liberation Sans", sans-serif' fill="#000">
<text x="56.3" y="213.9" font-size="21.5" text-anchor="end" stroke="#000" stroke-width="0.9">0</text>
<text x="56.3" y="181.9" font-size="21.5" text-anchor="end" stroke="#000" stroke-width="0.9">1</text>
<text x="56.3" y="149.5" font-size="21.5" text-anchor="end" stroke="#000" stroke-width="0.9">2</text>
<text x="56.3" y="117.1" font-size="21.5" text-anchor="end" stroke="#000" stroke-width="0.9">3</text>
<text x="56.3" y="84.7" font-size="21.5" text-anchor="end" stroke="#000" stroke-width="0.9">4</text>
<text x="56.3" y="52.3" font-size="21.5" text-anchor="end" stroke="#000" stroke-width="0.9">5</text>
<text x="56.3" y="19.9" font-size="21.5" text-anchor="end" stroke="#000" stroke-width="0.9">6</text>
<text x="56.3" y="426.3" font-size="21.5" text-anchor="end" stroke="#000" stroke-width="0.9">0</text>
<text x="56.3" y="397.5" font-size="21.5" text-anchor="end" stroke="#000" stroke-width="0.9">1</text>
<text x="56.3" y="368.7" font-size="21.5" text-anchor="end" stroke="#000" stroke-width="0.9">2</text>
<text x="56.3" y="339.9" font-size="21.5" text-anchor="end" stroke="#000" stroke-width="0.9">3</text>
<text x="56.3" y="311.1" font-size="21.5" text-anchor="end" stroke="#000" stroke-width="0.9">4</text>
<text x="56.3" y="282.3" font-size="21.5" text-anchor="end" stroke="#000" stroke-width="0.9">5</text>
<text x="56.3" y="253.5" font-size="21.5" text-anchor="end" stroke="#000" stroke-width="0.9">6</text>
<text x="56.3" y="233.8" font-size="21.5" text-anchor="end" stroke="#000" stroke-width="0.9">7</text>
<text x="127.3" y="456.2" font-size="22.0" text-anchor="middle" stroke="#000" stroke-width="0.9">-5</text>
<text x="223.8" y="456.2" font-size="22.0" text-anchor="middle" stroke="#000" stroke-width="0.9">0</text>
<text x="318.8" y="456.2" font-size="22.0" text-anchor="middle" stroke="#000" stroke-width="0.9">5</text>
<text x="413.8" y="456.2" font-size="22.0" text-anchor="middle" stroke="#000" stroke-width="0.9">10</text>
<text x="508.8" y="456.2" font-size="22.0" text-anchor="middle" stroke="#000" stroke-width="0.9">15</text>
</g>

<g font-family='"Liberation Sans", sans-serif' stroke-linejoin="round">
<g fill="#000" stroke="#000" stroke-width="1.0">
<!-- y axis title -->
<text transform="translate(19.6,218) rotate(-90)" font-size="26.6" text-anchor="middle">DOS (states/eV)</text>
<!-- x axis title -->
<text x="225" y="484.3" font-size="27">E - E</text>
<text x="284.3" y="489" font-size="17.5">F</text>
<text x="298" y="484.3" font-size="27">(</text><text x="306" y="484.3" font-size="27">eV)</text>
<!-- panel labels -->
<text x="76.6" y="26.5" font-size="26" letter-spacing="0.7">(a)</text>
<text x="77" y="241" font-size="26" letter-spacing="0.7">(b)</text>
<!-- titles -->
<text x="392.3" y="26.6" font-size="26">LiCoO</text>
<text x="467" y="28.4" font-size="17.5">2</text>
<text x="377.3" y="52.3" font-size="26">(U</text>
<text x="405" y="56.3" font-size="17.5">eff</text>
<text x="433.7" y="52.3" font-size="26">=</text>
<text x="456.5" y="52.3" font-size="26">4.9)</text>
<text x="385.5" y="244.8" font-size="26">Li</text>
<text x="406.3" y="247.3" font-size="17.5">0.5</text>
<text x="433.3" y="244.8" font-size="26">CoO</text>
<text x="488.3" y="247" font-size="17.5">2</text>
<text x="377.3" y="271.6" font-size="26">(U</text>
<text x="405" y="275.6" font-size="17.5">eff</text>
<text x="433.7" y="271.6" font-size="26">=</text>
<text x="456.5" y="271.6" font-size="26">4.9)</text>
<!-- legend text -->
<text x="375.3" y="104.8" font-size="22">total</text>
<text x="375.3" y="127.7" font-size="22">Co 3d</text>
<text x="375.3" y="150.3" font-size="22">O 2p x3</text>
<text x="358" y="295.2" font-size="22">total</text>
<text x="358" y="318.3" font-size="22">Co1 3d</text>
<text x="358" y="341" font-size="22">Co2 3d</text>
<text x="358" y="363.1" font-size="22">O 2p x3</text>
</g>
<!-- legend a -->
<line x1="327.2" y1="95.7" x2="366" y2="95.7" stroke="#000" stroke-width="2.5"/>
<line x1="327.2" y1="122.1" x2="366" y2="122.1" stroke="#0b35d2" stroke-width="2.6"/>
<line x1="327.2" y1="144.4" x2="366" y2="144.4" stroke="#22dd33" stroke-width="2.8" stroke-dasharray="5,4"/>
<!-- legend b -->
<line x1="309.8" y1="288.5" x2="348.6" y2="288.5" stroke="#000" stroke-width="2.5"/>
<line x1="309.8" y1="311.3" x2="348.6" y2="311.3" stroke="#e014aa" stroke-width="2.6"/>
<line x1="309.8" y1="334.4" x2="348.6" y2="334.4" stroke="#0b35d2" stroke-width="2.6"/>
<line x1="309.8" y1="357.1" x2="348.6" y2="357.1" stroke="#22dd33" stroke-width="2.8" stroke-dasharray="5,4"/>
<!-- annotations a -->
<g fill="#1c4ede" stroke="#1c4ede" stroke-width="0.8">
<text x="212.5" y="23" font-size="26">t<tspan font-size="18" dy="4">2g</tspan></text>
<text x="293" y="20.3" font-size="26">e<tspan font-size="18" dy="4">g</tspan></text>
<text x="300" y="247.8" font-size="26">e<tspan font-size="18" dy="4">g</tspan></text>
</g>
<text x="239" y="150.8" font-size="24" fill="#c8102a" stroke="#c8102a" stroke-width="0.7">&#945;</text>
<g fill="#e8a030" stroke="#e8a030" stroke-width="0.7">
<text x="238.3" y="185.5" font-size="20.5">&#946;</text>
<text x="321.8" y="193.3" font-size="20.5">&#946;</text>
</g>
<circle cx="206.8" cy="153.3" r="4.1" fill="#dc0a14"/>
<circle cx="150.6" cy="165.4" r="4.1" fill="#eba028"/>
<circle cx="210.8" cy="201.2" r="4.1" fill="#eba028"/>
<!-- annotations b -->
<text x="216.3" y="289.4" font-size="26" fill="#e014aa" stroke="#e014aa" stroke-width="0.9">a<tspan font-size="18" dy="4">1g</tspan><tspan dy="-4">-e</tspan><tspan font-size="18" dy="4">g</tspan></text>
</g>

</g>
</svg>
</body></html>
